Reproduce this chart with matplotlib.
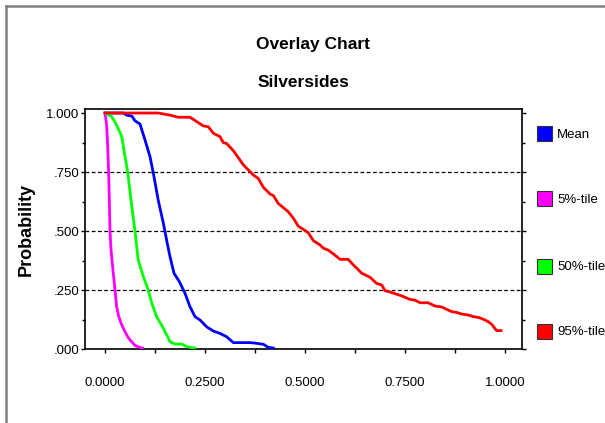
import matplotlib
matplotlib.use("Agg")
import matplotlib.pyplot as plt
from matplotlib.patches import Rectangle
from matplotlib.lines import Line2D
from matplotlib.ticker import FixedLocator, FuncFormatter

plt.rcParams['font.family'] = ['Liberation Sans', 'DejaVu Sans']

title = "Overlay Chart"
subtitle = "Silversides"
ylabel = "Probability"
series_labels = ["Mean", "5%-tile", "50%-tile", "95%-tile"]
series_colors = ["#0000FF", "#FF00FF", "#00FF00", "#FF0000"]

mean_x = [0.0, 0.046, 0.054, 0.067, 0.075, 0.0875, 0.1, 0.1125, 0.121, 0.133, 0.146, 0.154,
          0.1625, 0.1725, 0.186, 0.2, 0.2125, 0.225, 0.2375, 0.254, 0.271, 0.2875, 0.304,
          0.321, 0.3625, 0.375, 0.396, 0.408, 0.421]
mean_y = [1.0, 1.0, 0.991, 0.987, 0.967, 0.953, 0.886, 0.815, 0.744, 0.631, 0.532, 0.462,
          0.391, 0.321, 0.285, 0.236, 0.179, 0.137, 0.123, 0.094, 0.076, 0.066, 0.052,
          0.027, 0.027, 0.025, 0.02, 0.007, 0.004]

p5_x = [0.0, 0.004, 0.007, 0.009, 0.011, 0.0125, 0.015, 0.019, 0.025, 0.029, 0.034, 0.040,
        0.048, 0.058, 0.067, 0.075, 0.085, 0.094]
p5_y = [1.0, 0.95, 0.85, 0.75, 0.62, 0.50, 0.42, 0.35, 0.25, 0.18, 0.14, 0.11,
        0.08, 0.048, 0.03, 0.015, 0.008, 0.004]

p50_x = [0.0, 0.017, 0.029, 0.042, 0.05, 0.057, 0.065, 0.075, 0.083, 0.096, 0.108, 0.117,
         0.129, 0.146, 0.1625, 0.175, 0.192, 0.204, 0.225]
p50_y = [1.0, 0.984, 0.949, 0.90, 0.815, 0.747, 0.631, 0.499, 0.377, 0.306, 0.25, 0.194,
         0.137, 0.088, 0.031, 0.021, 0.021, 0.010, 0.004]

p95_x = [0.0, 0.133, 0.1625, 0.183, 0.2125, 0.246, 0.258, 0.271, 0.2875, 0.296, 0.304, 0.321,
         0.346, 0.371, 0.383, 0.396, 0.4125, 0.421, 0.433, 0.458, 0.471, 0.483, 0.508,
         0.521, 0.5375, 0.546, 0.558, 0.571, 0.5875, 0.608, 0.621, 0.642, 0.6625, 0.679,
         0.692, 0.700, 0.717, 0.742, 0.7625, 0.775, 0.7875, 0.808, 0.825, 0.842, 0.854,
         0.867, 0.879, 0.892, 0.908, 0.921, 0.933, 0.946, 0.958, 0.967, 0.9725, 0.979, 0.99]
p95_y = [1.0, 1.0, 0.991, 0.982, 0.982, 0.945, 0.942, 0.914, 0.90, 0.874, 0.871, 0.840,
         0.780, 0.737, 0.723, 0.685, 0.657, 0.650, 0.617, 0.582, 0.554, 0.521, 0.493,
         0.459, 0.441, 0.427, 0.419, 0.403, 0.380, 0.380, 0.356, 0.321, 0.304, 0.278,
         0.271, 0.247, 0.239, 0.225, 0.210, 0.207, 0.196, 0.196, 0.182, 0.178, 0.168,
         0.158, 0.155, 0.148, 0.144, 0.137, 0.134, 0.126, 0.116, 0.104, 0.092, 0.078, 0.078]

x_ticks = [0.0, 0.25, 0.5, 0.75, 1.0]
x_tick_labels = ["0.0000", "0.2500", "0.5000", "0.7500", "1.0000"]
y_ticks = [0.0, 0.25, 0.5, 0.75, 1.0]
y_tick_labels = [".000", ".250", ".500", ".750", "1.000"]

W, H = 605, 423
fig = plt.figure(figsize=(W / 100, H / 100), dpi=100)
fig.patch.set_facecolor("white")

ax = fig.add_axes([85 / W, 1 - 349 / H, (522 - 85) / W, (349 - 109) / H])
series = [(mean_x, mean_y), (p5_x, p5_y), (p50_x, p50_y), (p95_x, p95_y)]
for (xs, ys), c in zip(series, series_colors):
    ax.plot(xs, ys, color=c, lw=2.0, solid_joinstyle='round', zorder=3)

ax.set_xlim(-0.05, 1.0425)
ax.set_ylim(0, 1.017)

for yv in [0.25, 0.5, 0.75]:
    ax.axhline(yv, color="black", lw=0.9, ls=(0, (3, 2)), zorder=1)

ax.set_xticks(x_ticks)
ax.set_xticklabels(x_tick_labels, fontsize=9.5)
ax.set_yticks(y_ticks)
ax.set_yticklabels(y_tick_labels, fontsize=9.5)
ax.xaxis.set_minor_locator(FixedLocator([0.125, 0.375, 0.625, 0.875]))
ax.yaxis.set_minor_locator(FixedLocator([0.125, 0.375, 0.625, 0.875]))
ax.tick_params(axis='x', which='major', direction='out', length=3, width=1, pad=17)
ax.tick_params(axis='x', which='minor', direction='out', length=3, width=1)
ax.tick_params(axis='y', which='major', direction='out', length=3, width=1, pad=1,
               right=True)
ax.tick_params(axis='y', which='minor', direction='out', length=2, width=1, right=True)
for s in ax.spines.values():
    s.set_linewidth(1.2)
    s.set_color("black")

fig.text(313 / W, 1 - 45 / H, title, ha='center', va='center', fontsize=12.5,
         fontweight='bold')
fig.text(304 / W, 1 - 82 / H, subtitle, ha='center', va='center', fontsize=12.5,
         fontweight='bold')
fig.text(26 / W, 1 - 229 / H, ylabel, ha='center', va='center', fontsize=13,
         fontweight='bold', rotation=90)

legend_y = [134, 199, 266, 331]
for lab, c, yc in zip(series_labels, series_colors, legend_y):
    fig.patches.append(Rectangle((537 / W, 1 - (yc + 7.5) / H), 15 / W, 15 / H,
                                 transform=fig.transFigure, facecolor=c,
                                 edgecolor="#333333", lw=0.8))
    fig.text(557 / W, 1 - (yc + 1) / H, lab, ha='left', va='center', fontsize=9.5)

fig.lines.append(Line2D([5.5 / W, 5.5 / W], [0, 1 - 6.5 / H], transform=fig.transFigure,
                        color="#808080", lw=1.8))
fig.lines.append(Line2D([5.5 / W, 1], [1 - 6.5 / H, 1 - 6.5 / H], transform=fig.transFigure,
                        color="#808080", lw=1.8))

fig.savefig("out.png", dpi=100)
